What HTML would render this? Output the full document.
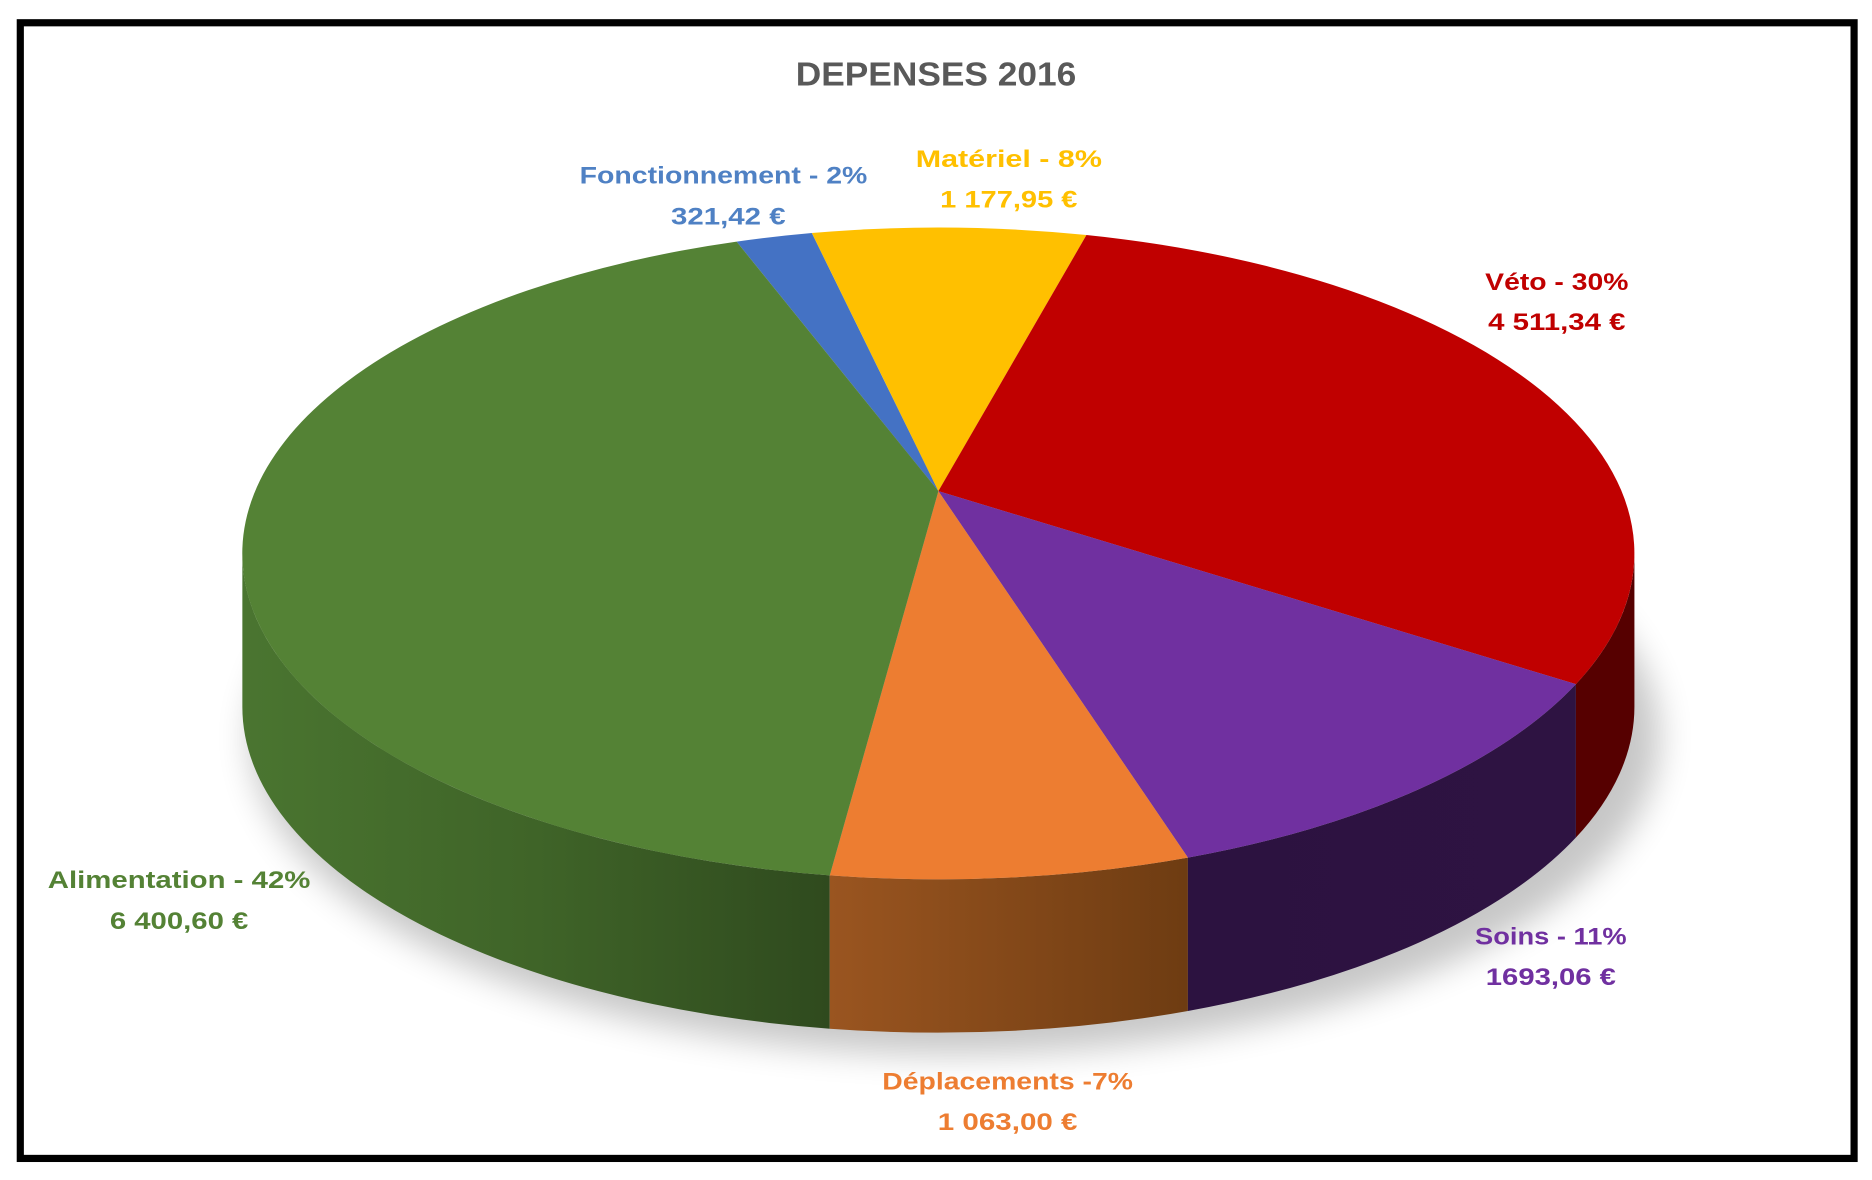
<!DOCTYPE html>
<html><head><meta charset="utf-8">
<style>
html,body{margin:0;padding:0;background:#fff;}
svg{display:block;}
text{font-family:"Liberation Sans",sans-serif;font-weight:bold;}
</style></head>
<body>
<svg width="1872" height="1180" viewBox="0 0 1568 985" preserveAspectRatio="none" xmlns="http://www.w3.org/2000/svg">
<defs>
<filter id="blur" x="-20%" y="-20%" width="140%" height="140%"><feGaussianBlur stdDeviation="14"/></filter>
<linearGradient id="gside" x1="0" x2="1" y1="0" y2="0">
<stop offset="0" stop-color="#4a7530"/><stop offset="0.5" stop-color="#3f6428"/><stop offset="1" stop-color="#2f4a1e"/></linearGradient>
<linearGradient id="oside" x1="0" x2="1" y1="0" y2="0">
<stop offset="0" stop-color="#9a5520"/><stop offset="1" stop-color="#6e3c12"/></linearGradient>
<linearGradient id="pside" x1="0" x2="1" y1="0" y2="0">
<stop offset="0" stop-color="#2c1240"/><stop offset="1" stop-color="#2e1342"/></linearGradient>
</defs>
<rect x="0" y="0" width="1568" height="985" fill="#fff"/>
<rect x="17" y="19" width="1536" height="948" fill="none" stroke="#000" stroke-width="6"/>
<text x="784" y="64" font-size="28" fill="#595959" text-anchor="middle" dominant-baseline="middle" textLength="235" lengthAdjust="spacingAndGlyphs">DEPENSES 2016</text>

<ellipse cx="800" cy="615" rx="590" ry="265" fill="#000" opacity="0.22" filter="url(#blur)"/>

<!-- sides -->
<path d="M203,462 A583,272 0 0 0 695,730.7 L695,858.7 A583,272 0 0 1 203,590 Z" fill="url(#gside)"/>
<path d="M695,730.7 A583,272 0 0 0 995,715.9 L995,843.9 A583,272 0 0 1 695,858.7 Z" fill="url(#oside)"/>
<path d="M995,715.9 A583,272 0 0 0 1320,571.1 L1320,699.1 A583,272 0 0 1 995,843.9 Z" fill="url(#pside)"/>
<path d="M1320,571.1 A583,272 0 0 0 1369,462 L1369,590 A583,272 0 0 1 1320,699.1 Z" fill="#560000"/>

<!-- top -->
<path d="M786,410 L617,201.7 A583,272 0 0 1 680,194.5 Z" fill="#4472c4"/>
<path d="M786,410 L680,194.5 A583,272 0 0 1 910,196.2 Z" fill="#ffc000"/>
<path d="M786,410 L910,196.2 A583,272 0 0 1 1320,571.1 Z" fill="#c00000"/>
<path d="M786,410 L1320,571.1 A583,272 0 0 1 995,715.9 Z" fill="#7030a0"/>
<path d="M786,410 L995,715.9 A583,272 0 0 1 695,730.7 Z" fill="#ed7d31"/>
<path d="M786,410 L695,730.7 A583,272 0 0 1 617,201.7 Z" fill="#548235"/>

<g font-size="20" text-anchor="middle" dominant-baseline="middle">
<text x="606" y="148" fill="#4f81c4" textLength="241" lengthAdjust="spacingAndGlyphs">Fonctionnement - 2%</text>
<text x="610" y="182" fill="#4f81c4" textLength="96" lengthAdjust="spacingAndGlyphs">321,42 €</text>
<text x="845" y="134" fill="#ffc000" textLength="156" lengthAdjust="spacingAndGlyphs">Matériel -  8%</text>
<text x="845" y="168" fill="#ffc000" textLength="115" lengthAdjust="spacingAndGlyphs">1 177,95 €</text>
<text x="1304" y="237" fill="#c00000" textLength="120" lengthAdjust="spacingAndGlyphs">Véto - 30%</text>
<text x="1304" y="270" fill="#c00000" textLength="115" lengthAdjust="spacingAndGlyphs">4 511,34 €</text>
<text x="1299" y="783" fill="#7030a0" textLength="127" lengthAdjust="spacingAndGlyphs">Soins - 11%</text>
<text x="1299" y="817" fill="#7030a0" textLength="109" lengthAdjust="spacingAndGlyphs">1693,06 €</text>
<text x="844" y="904" fill="#ed7d31" textLength="210" lengthAdjust="spacingAndGlyphs">Déplacements -7%</text>
<text x="844" y="938" fill="#ed7d31" textLength="117" lengthAdjust="spacingAndGlyphs">1 063,00 €</text>
<text x="150" y="736" fill="#548235" textLength="220" lengthAdjust="spacingAndGlyphs">Alimentation - 42%</text>
<text x="150" y="770" fill="#548235" textLength="116" lengthAdjust="spacingAndGlyphs">6 400,60 €</text>
</g>
</svg>
</body></html>
